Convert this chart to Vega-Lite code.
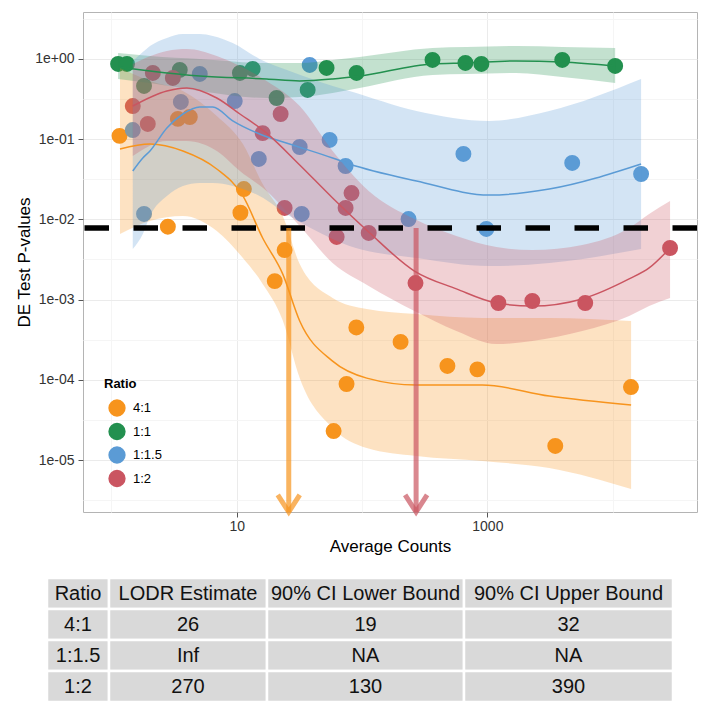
{
  "$schema": "https://vega.github.io/schema/vega-lite/v6.json",
  "padding": {"left": 15, "top": 11, "right": 5, "bottom": 5},
  "background": "white",
  "config": {
    "font": "Liberation Sans",
    "view": {"stroke": "#B4B4B4", "strokeWidth": 1},
    "axis": {"labelFont": "Liberation Sans", "titleFont": "Liberation Sans", "titleFontWeight": "normal", "labelColor": "#333333", "titleColor": "#000000", "tickColor": "#555555", "domain": false, "labelOverlap": false}
  },
  "datasets": {
    "points": [
      {"Ratio": "4:1", "count": 1.16, "p": 0.11},
      {"Ratio": "4:1", "count": 2.82, "p": 0.0081},
      {"Ratio": "4:1", "count": 3.39, "p": 0.179},
      {"Ratio": "4:1", "count": 4.22, "p": 0.189},
      {"Ratio": "4:1", "count": 11.4, "p": 0.0239},
      {"Ratio": "4:1", "count": 10.7, "p": 0.0121},
      {"Ratio": "4:1", "count": 24.1, "p": 0.00415},
      {"Ratio": "4:1", "count": 20.1, "p": 0.0017},
      {"Ratio": "4:1", "count": 90, "p": 0.00045},
      {"Ratio": "4:1", "count": 203, "p": 0.000297},
      {"Ratio": "4:1", "count": 480, "p": 0.000149},
      {"Ratio": "4:1", "count": 832, "p": 0.000135},
      {"Ratio": "4:1", "count": 75.2, "p": 0.0000887},
      {"Ratio": "4:1", "count": 59.3, "p": 0.000023},
      {"Ratio": "4:1", "count": 3483, "p": 0.000015},
      {"Ratio": "4:1", "count": 14000, "p": 0.0000813},
      {"Ratio": "1:1", "count": 1.13, "p": 0.867},
      {"Ratio": "1:1", "count": 1.33, "p": 0.867},
      {"Ratio": "1:1", "count": 1.82, "p": 0.461},
      {"Ratio": "1:1", "count": 3.51, "p": 0.729},
      {"Ratio": "1:1", "count": 10.6, "p": 0.669},
      {"Ratio": "1:1", "count": 13.4, "p": 0.751},
      {"Ratio": "1:1", "count": 20.8, "p": 0.326},
      {"Ratio": "1:1", "count": 36.8, "p": 0.411},
      {"Ratio": "1:1", "count": 52.1, "p": 0.773},
      {"Ratio": "1:1", "count": 90.4, "p": 0.669},
      {"Ratio": "1:1", "count": 365, "p": 0.972},
      {"Ratio": "1:1", "count": 668, "p": 0.891},
      {"Ratio": "1:1", "count": 896, "p": 0.867},
      {"Ratio": "1:1", "count": 3960, "p": 0.972},
      {"Ratio": "1:1", "count": 10470, "p": 0.818},
      {"Ratio": "1:1.5", "count": 1.48, "p": 0.13},
      {"Ratio": "1:1.5", "count": 1.82, "p": 0.0117},
      {"Ratio": "1:1.5", "count": 5.07, "p": 0.65},
      {"Ratio": "1:1.5", "count": 3.58, "p": 0.291},
      {"Ratio": "1:1.5", "count": 9.64, "p": 0.299},
      {"Ratio": "1:1.5", "count": 15.0, "p": 0.0567},
      {"Ratio": "1:1.5", "count": 38.2, "p": 0.842},
      {"Ratio": "1:1.5", "count": 31.8, "p": 0.0799},
      {"Ratio": "1:1.5", "count": 55.1, "p": 0.0977},
      {"Ratio": "1:1.5", "count": 73.9, "p": 0.0463},
      {"Ratio": "1:1.5", "count": 33.0, "p": 0.0117},
      {"Ratio": "1:1.5", "count": 235, "p": 0.0101},
      {"Ratio": "1:1.5", "count": 644, "p": 0.0654},
      {"Ratio": "1:1.5", "count": 4755, "p": 0.0505},
      {"Ratio": "1:1.5", "count": 16860, "p": 0.0368},
      {"Ratio": "1:1.5", "count": 982, "p": 0.0076},
      {"Ratio": "1:2", "count": 1.48, "p": 0.259},
      {"Ratio": "1:2", "count": 1.95, "p": 0.155},
      {"Ratio": "1:2", "count": 2.14, "p": 0.669},
      {"Ratio": "1:2", "count": 3.09, "p": 0.58},
      {"Ratio": "1:2", "count": 16.1, "p": 0.119},
      {"Ratio": "1:2", "count": 22.4, "p": 0.206},
      {"Ratio": "1:2", "count": 24.1, "p": 0.0139},
      {"Ratio": "1:2", "count": 62.7, "p": 0.00604},
      {"Ratio": "1:2", "count": 73.9, "p": 0.0139},
      {"Ratio": "1:2", "count": 82.4, "p": 0.0213},
      {"Ratio": "1:2", "count": 113, "p": 0.00677},
      {"Ratio": "1:2", "count": 267, "p": 0.00161},
      {"Ratio": "1:2", "count": 1224, "p": 0.000907},
      {"Ratio": "1:2", "count": 2284, "p": 0.000961},
      {"Ratio": "1:2", "count": 6039, "p": 0.000907},
      {"Ratio": "1:2", "count": 28710, "p": 0.0044}
    ],
    "fits": [
      {"Ratio": "4:1", "count": 1.17, "fit": 0.0755, "lo": 0.00658, "hi": 0.773},
      {"Ratio": "4:1", "count": 2.03, "fit": 0.0871, "lo": 0.00955, "hi": 0.532},
      {"Ratio": "4:1", "count": 3.72, "fit": 0.0713, "lo": 0.011, "hi": 0.399},
      {"Ratio": "4:1", "count": 6.93, "fit": 0.0425, "lo": 0.00716, "hi": 0.195},
      {"Ratio": "4:1", "count": 11.2, "fit": 0.0196, "lo": 0.0033, "hi": 0.0871},
      {"Ratio": "4:1", "count": 16.1, "fit": 0.00586, "lo": 0.00157, "hi": 0.0276},
      {"Ratio": "4:1", "count": 23.3, "fit": 0.00208, "lo": 0.00055, "hi": 0.011},
      {"Ratio": "4:1", "count": 31.8, "fit": 0.000541, "lo": 0.000105, "hi": 0.00278},
      {"Ratio": "4:1", "count": 58.2, "fit": 0.000171, "lo": 0.0000251, "hi": 0.00105},
      {"Ratio": "4:1", "count": 109, "fit": 0.000105, "lo": 0.0000141, "hi": 0.000764},
      {"Ratio": "4:1", "count": 272, "fit": 0.0000861, "lo": 0.0000112, "hi": 0.000661},
      {"Ratio": "4:1", "count": 912, "fit": 0.0000861, "lo": 0.00000972, "hi": 0.00059},
      {"Ratio": "4:1", "count": 3119, "fit": 0.0000628, "lo": 0.00000794, "hi": 0.00059},
      {"Ratio": "4:1", "count": 14030, "fit": 0.0000485, "lo": 0.00000435, "hi": 0.000541},
      {"Ratio": "1:1", "count": 1.13, "fit": 0.795, "lo": 0.563, "hi": 1.19},
      {"Ratio": "1:1", "count": 2.03, "fit": 0.709, "lo": 0.502, "hi": 1.09},
      {"Ratio": "1:1", "count": 5.07, "fit": 0.614, "lo": 0.399, "hi": 1.0},
      {"Ratio": "1:1", "count": 17.3, "fit": 0.563, "lo": 0.326, "hi": 0.891},
      {"Ratio": "1:1", "count": 31.8, "fit": 0.532, "lo": 0.336, "hi": 0.891},
      {"Ratio": "1:1", "count": 58.2, "fit": 0.563, "lo": 0.377, "hi": 0.972},
      {"Ratio": "1:1", "count": 95.5, "fit": 0.614, "lo": 0.435, "hi": 1.06},
      {"Ratio": "1:1", "count": 365, "fit": 0.867, "lo": 0.632, "hi": 1.37},
      {"Ratio": "1:1", "count": 680, "fit": 0.891, "lo": 0.65, "hi": 1.41},
      {"Ratio": "1:1", "count": 1702, "fit": 0.944, "lo": 0.669, "hi": 1.45},
      {"Ratio": "1:1", "count": 3960, "fit": 0.918, "lo": 0.597, "hi": 1.41},
      {"Ratio": "1:1", "count": 10470, "fit": 0.818, "lo": 0.502, "hi": 1.37},
      {"Ratio": "1:1.5", "count": 1.48, "fit": 0.0401, "lo": 0.00428, "hi": 0.944},
      {"Ratio": "1:1.5", "count": 1.78, "fit": 0.0583, "lo": 0.00658, "hi": 1.22},
      {"Ratio": "1:1.5", "count": 2.03, "fit": 0.0713, "lo": 0.011, "hi": 1.45},
      {"Ratio": "1:1.5", "count": 2.77, "fit": 0.138, "lo": 0.0196, "hi": 1.83},
      {"Ratio": "1:1.5", "count": 3.72, "fit": 0.206, "lo": 0.0261, "hi": 2.05},
      {"Ratio": "1:1.5", "count": 5.07, "fit": 0.252, "lo": 0.0284, "hi": 2.05},
      {"Ratio": "1:1.5", "count": 6.44, "fit": 0.252, "lo": 0.0284, "hi": 1.94},
      {"Ratio": "1:1.5", "count": 9.29, "fit": 0.169, "lo": 0.0261, "hi": 1.58},
      {"Ratio": "1:1.5", "count": 15.2, "fit": 0.116, "lo": 0.0196, "hi": 1.0},
      {"Ratio": "1:1.5", "count": 26.4, "fit": 0.0871, "lo": 0.011, "hi": 0.709},
      {"Ratio": "1:1.5", "count": 58.2, "fit": 0.0583, "lo": 0.0057, "hi": 0.461},
      {"Ratio": "1:1.5", "count": 79.4, "fit": 0.0491, "lo": 0.00466, "hi": 0.399},
      {"Ratio": "1:1.5", "count": 272, "fit": 0.0301, "lo": 0.0033, "hi": 0.225},
      {"Ratio": "1:1.5", "count": 1038, "fit": 0.0201, "lo": 0.00262, "hi": 0.169},
      {"Ratio": "1:1.5", "count": 3119, "fit": 0.0239, "lo": 0.00286, "hi": 0.225},
      {"Ratio": "1:1.5", "count": 16860, "fit": 0.0491, "lo": 0.00428, "hi": 0.563},
      {"Ratio": "1:2", "count": 1.48, "fit": 0.259, "lo": 0.0617, "hi": 0.867},
      {"Ratio": "1:2", "count": 2.77, "fit": 0.399, "lo": 0.095, "hi": 1.26},
      {"Ratio": "1:2", "count": 4.0, "fit": 0.435, "lo": 0.095, "hi": 1.33},
      {"Ratio": "1:2", "count": 6.93, "fit": 0.326, "lo": 0.0713, "hi": 1.09},
      {"Ratio": "1:2", "count": 10.6, "fit": 0.206, "lo": 0.0401, "hi": 0.818},
      {"Ratio": "1:2", "count": 17.3, "fit": 0.119, "lo": 0.0226, "hi": 0.532},
      {"Ratio": "1:2", "count": 31.8, "fit": 0.0477, "lo": 0.00827, "hi": 0.259},
      {"Ratio": "1:2", "count": 58.2, "fit": 0.0185, "lo": 0.00286, "hi": 0.0713},
      {"Ratio": "1:2", "count": 113, "fit": 0.00697, "lo": 0.00148, "hi": 0.0226},
      {"Ratio": "1:2", "count": 262, "fit": 0.00227, "lo": 0.000721, "hi": 0.0101},
      {"Ratio": "1:2", "count": 566, "fit": 0.00136, "lo": 0.000406, "hi": 0.00621},
      {"Ratio": "1:2", "count": 1180, "fit": 0.000907, "lo": 0.000279, "hi": 0.00452},
      {"Ratio": "1:2", "count": 2284, "fit": 0.000832, "lo": 0.000305, "hi": 0.00415},
      {"Ratio": "1:2", "count": 5715, "fit": 0.00102, "lo": 0.000406, "hi": 0.0048},
      {"Ratio": "1:2", "count": 13530, "fit": 0.00181, "lo": 0.000625, "hi": 0.00781},
      {"Ratio": "1:2", "count": 19540, "fit": 0.00248, "lo": 0.000832, "hi": 0.0117},
      {"Ratio": "1:2", "count": 28710, "fit": 0.0044, "lo": 0.00105, "hi": 0.017}
    ],
    "arrows": [
      {"Ratio": "4:1", "count": 26, "from": 0.0078, "to": 0.00000225},
      {"Ratio": "1:2", "count": 270, "from": 0.0078, "to": 0.00000225}
    ],
    "table": [
      {"r": 0, "c": "Ratio", "t": "Ratio"},
      {"r": 0, "c": "LODR", "t": "LODR Estimate"},
      {"r": 0, "c": "Lower", "t": "90% CI Lower Bound"},
      {"r": 0, "c": "Upper", "t": "90% CI Upper Bound"},
      {"r": 1, "c": "Ratio", "t": "4:1"},
      {"r": 1, "c": "LODR", "t": "26"},
      {"r": 1, "c": "Lower", "t": "19"},
      {"r": 1, "c": "Upper", "t": "32"},
      {"r": 2, "c": "Ratio", "t": "1:1.5"},
      {"r": 2, "c": "LODR", "t": "Inf"},
      {"r": 2, "c": "Lower", "t": "NA"},
      {"r": 2, "c": "Upper", "t": "NA"},
      {"r": 3, "c": "Ratio", "t": "1:2"},
      {"r": 3, "c": "LODR", "t": "270"},
      {"r": 3, "c": "Lower", "t": "130"},
      {"r": 3, "c": "Upper", "t": "390"}
    ]
  },
  "spacing": 21,
  "vconcat": [
    {
      "width": 614,
      "height": 500,
      "layer": [
        {
          "data": {"name": "points"},
          "mark": {"type": "circle", "size": 254, "opacity": 1},
          "encoding": {
            "x": {"field": "count", "type": "quantitative", "title": "Average Counts",
              "scale": {"type": "log", "domain": [0.593, 47100], "nice": false},
              "axis": {"values": [1, 10, 100, 1000, 10000], "labelExpr": "datum.value == 10 ? '10' : (datum.value == 1000 ? '1000' : '')",
                "tickSize": 5, "labelPadding": 2, "labelFontSize": 14, "titleFontSize": 17, "titlePadding": 5,
                "tickOpacity": {"condition": {"test": "datum.value == 10 || datum.value == 1000", "value": 1}, "value": 0},
                "grid": true, "gridColor": {"condition": {"test": "datum.value == 10 || datum.value == 1000", "value": "#EBEBEB"}, "value": "#F5F5F5"}}},
            "y": {"field": "p", "type": "quantitative", "title": "DE Test P-values",
              "scale": {"type": "log", "domain": [0.00000225, 3.85], "nice": false},
              "axis": {"values": [3.1623, 1, 0.31623, 0.1, 0.031623, 0.01, 0.0031623, 0.001, 0.00031623, 0.0001, 0.000031623, 0.00001, 0.0000031623],
                "labelExpr": "abs(log(datum.value)/LN10 - round(log(datum.value)/LN10)) > 0.1 ? '' : (datum.value > 0.5 ? '1e+00' : '1e-0' + round(-log(datum.value)/LN10))",
                "tickSize": 5, "labelPadding": 4, "labelFontSize": 14, "titleFontSize": 17, "titlePadding": 1,
                "tickOpacity": {"condition": {"test": "abs(log(datum.value)/LN10 - round(log(datum.value)/LN10)) < 0.1", "value": 1}, "value": 0},
                "grid": true, "gridColor": {"condition": {"test": "abs(log(datum.value)/LN10 - round(log(datum.value)/LN10)) < 0.1", "value": "#EBEBEB"}, "value": "#F5F5F5"}}},
            "color": {"field": "Ratio", "type": "nominal",
              "scale": {"domain": ["4:1", "1:1", "1:1.5", "1:2"], "range": ["#F7941D", "#23904F", "#5B9BD5", "#CA5561"]},
              "legend": {"title": "Ratio", "orient": "none", "legendX": 21, "legendY": 366, "symbolType": "circle", "symbolSize": 250, "symbolOpacity": 1,
                "titleFontSize": 13, "titleFontWeight": "bold", "titleColor": "#000000", "labelFontSize": 13, "labelColor": "#000000",
                "titlePadding": 8, "rowPadding": 1.5, "symbolOffset": 4, "labelOffset": 7, "padding": 0}}
          }
        },
        {
          "data": {"name": "fits"},
          "mark": {"type": "area", "opacity": 0.27, "interpolate": "monotone"},
          "encoding": {
            "x": {"field": "count", "type": "quantitative", "title": "Average Counts"},
            "y": {"field": "hi", "type": "quantitative", "title": "DE Test P-values"},
            "y2": {"field": "lo"},
            "color": {"field": "Ratio", "type": "nominal", "legend": null}
          }
        },
        {
          "data": {"name": "fits"},
          "mark": {"type": "line", "strokeWidth": 1.5, "interpolate": "monotone"},
          "encoding": {
            "x": {"field": "count", "type": "quantitative", "title": "Average Counts"},
            "y": {"field": "fit", "type": "quantitative", "title": "DE Test P-values"},
            "color": {"field": "Ratio", "type": "nominal", "legend": null}
          }
        },
        {
          "data": {"values": [{"cut": 0.0078}]},
          "mark": {"type": "rule", "color": "#000000", "strokeWidth": 5.5, "strokeDash": [24.5, 24.5]},
          "encoding": {
            "y": {"field": "cut", "type": "quantitative", "title": "DE Test P-values"}
          }
        },
        {
          "data": {"name": "arrows"},
          "mark": {"type": "rule", "strokeWidth": 5, "opacity": 0.7},
          "encoding": {
            "x": {"field": "count", "type": "quantitative", "title": "Average Counts"},
            "y": {"field": "from", "type": "quantitative", "title": "DE Test P-values"},
            "y2": {"field": "to"},
            "color": {"field": "Ratio", "type": "nominal", "legend": null}
          }
        },
        {
          "data": {"name": "arrows"},
          "mark": {"type": "point", "shape": "M-1,-1.55L0,0L1,-1.55", "size": 484, "filled": false, "strokeWidth": 5, "opacity": 0.7},
          "encoding": {
            "x": {"field": "count", "type": "quantitative", "title": "Average Counts"},
            "y": {"field": "to", "type": "quantitative", "title": "DE Test P-values"},
            "color": {"field": "Ratio", "type": "nominal", "legend": null}
          }
        }
      ]
    },
    {
      "spacing": 0,
      "bounds": "flush",
      "hconcat": [
        {
          "width": 26, "height": 124, "view": {"stroke": null},
          "data": {"name": "table"},
          "transform": [{"filter": "datum.c === 'Ratio'"}],
          "encoding": {"y": {"field": "r", "type": "ordinal", "scale": {"paddingInner": 0, "paddingOuter": 0}, "axis": null}},
          "layer": [
            {"mark": {"type": "rect", "fill": "#D9D9D9", "stroke": "white", "strokeWidth": 2.5},
             "encoding": {"x": {"datum": 0, "type": "quantitative", "scale": {"domain": [0, 1], "range": [-36, 26]}, "axis": null}, "x2": {"datum": 1}}},
            {"mark": {"type": "text", "fontSize": 20, "font": "Liberation Sans", "color": "#111111"},
             "encoding": {"x": {"datum": 0.5, "type": "quantitative"}, "text": {"field": "t"}}}
          ]
        },
        {
          "width": 158, "height": 124, "view": {"stroke": null},
          "data": {"name": "table"},
          "transform": [{"filter": "datum.c === 'LODR'"}],
          "encoding": {"y": {"field": "r", "type": "ordinal", "scale": {"paddingInner": 0, "paddingOuter": 0}, "axis": null}},
          "layer": [
            {"mark": {"type": "rect", "fill": "#D9D9D9", "stroke": "white", "strokeWidth": 2.5}},
            {"mark": {"type": "text", "fontSize": 20, "font": "Liberation Sans", "color": "#111111"}, "encoding": {"text": {"field": "t"}}}
          ]
        },
        {
          "width": 197, "height": 124, "view": {"stroke": null},
          "data": {"name": "table"},
          "transform": [{"filter": "datum.c === 'Lower'"}],
          "encoding": {"y": {"field": "r", "type": "ordinal", "scale": {"paddingInner": 0, "paddingOuter": 0}, "axis": null}},
          "layer": [
            {"mark": {"type": "rect", "fill": "#D9D9D9", "stroke": "white", "strokeWidth": 2.5}},
            {"mark": {"type": "text", "fontSize": 20, "font": "Liberation Sans", "color": "#111111"}, "encoding": {"text": {"field": "t"}}}
          ]
        },
        {
          "width": 209, "height": 124, "view": {"stroke": null},
          "data": {"name": "table"},
          "transform": [{"filter": "datum.c === 'Upper'"}],
          "encoding": {"y": {"field": "r", "type": "ordinal", "scale": {"paddingInner": 0, "paddingOuter": 0}, "axis": null}},
          "layer": [
            {"mark": {"type": "rect", "fill": "#D9D9D9", "stroke": "white", "strokeWidth": 2.5}},
            {"mark": {"type": "text", "fontSize": 20, "font": "Liberation Sans", "color": "#111111"}, "encoding": {"text": {"field": "t"}}}
          ]
        }
      ]
    }
  ]
}
